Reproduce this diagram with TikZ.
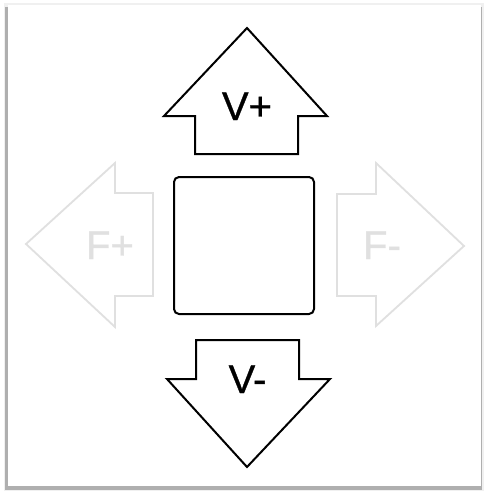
\documentclass[tikz,border=0pt]{standalone}
\usepackage{fontspec}
\setmainfont{Liberation Sans}
\newfontfamily\keyfont[FakeBold=0.8]{Liberation Sans}
\definecolor{padgray}{RGB}{224,224,224}
\definecolor{framegray}{RGB}{175,175,175}

\begin{document}
\begin{tikzpicture}[x=1pt, y=-1pt,
    keyline/.style={draw=black, line width=2pt, line join=miter, fill=white},
    fadeline/.style={draw=padgray, line width=1.8pt, line join=miter, fill=white},
    keylabel/.style={anchor=base, inner sep=0pt, font=\keyfont\fontsize{40}{40}\selectfont}]
  \useasboundingbox (0,0) rectangle (485,493);
  % panel with shadow
  \fill[black!6] (4,3) rectangle (484,491);
  \fill[framegray] (5,7) rectangle (482,490);
  \fill[white] (8,5) rectangle (481,486);

  % up / down
  \draw[keyline] (247,28) -- (327,116) -- (298,116) -- (298,154) -- (195,154) -- (195,116) -- (164,116) -- cycle;
  \draw[keyline] (247,467) -- (330,379) -- (299,379) -- (299,340) -- (196,340) -- (196,379) -- (167,379) -- cycle;
  % left / right
  \draw[fadeline] (26,244) -- (115,163) -- (115,193) -- (153,193) -- (153,296) -- (115,296) -- (115,327) -- cycle;
  \draw[fadeline] (464,246) -- (376,163) -- (376,194) -- (337,194) -- (337,296) -- (376,296) -- (376,326) -- cycle;

  % centre key
  \node[draw, line width=2pt, rounded corners=5pt, minimum width=140pt, minimum height=137pt, inner sep=0pt] (pad) at (244,245.5) {};

  \node[keylabel] (vup) at (247,120) {V+};
  \node[keylabel] (vdown) at (247.5,393) {V-};
  \node[keylabel, text=padgray] (fplus) at (110,259) {F+};
  \node[keylabel, text=padgray] (fminus) at (382,259) {F-};
\end{tikzpicture}
\end{document}
